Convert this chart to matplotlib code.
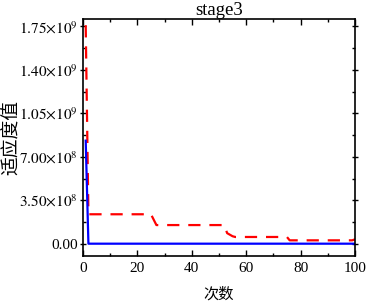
import matplotlib.pyplot as plt
from matplotlib.ticker import MultipleLocator, FuncFormatter

plt.rcParams['font.family'] = ['Liberation Serif', 'Noto Sans CJK SC']
plt.rcParams['mathtext.fontset'] = 'stix'

# 数据（从图中读取的折点）
red_x = [1, 2, 25, 27, 52, 53, 55, 56, 75, 76, 99, 100]
red_y = [1.76e9, 2.37e8, 2.37e8, 1.5e8, 1.5e8, 8.5e7, 6.0e7, 5.4e7, 5.4e7, 2.7e7, 2.7e7, 3.5e7]
blue_x = [1, 2, 100]
blue_y = [8.3e8, 0.0, 0.0]

yticks = [0, 3.5e8, 7.0e8, 1.05e9, 1.40e9, 1.75e9]


def fmt(v, pos):
    if v == 0:
        return '0.00'
    exp = 0
    m = v
    while abs(m) >= 10:
        m /= 10
        exp += 1
    return r'$\mathrm{%.2f{\times}10^{%d}}$' % (m, exp)


fig = plt.figure(figsize=(3.68, 3.02), dpi=100)
ax = fig.add_axes([0.2255, 0.152, 0.739, 0.785])

ax.plot(red_x, red_y, color='#ff0000', linewidth=1.6, linestyle=(0, (5.5, 4)))
ax.plot(blue_x, blue_y, color='#0000ff', linewidth=1.6)

ax.set_xlim(0, 100)
ax.set_ylim(-1.0e8, 1.81e9)
ax.set_xticks([0, 20, 40, 60, 80, 100])
ax.xaxis.set_minor_locator(MultipleLocator(10))
ax.set_yticks(yticks)
ax.yaxis.set_minor_locator(MultipleLocator(1.75e8))
ax.yaxis.set_major_formatter(FuncFormatter(fmt))

ax.tick_params(which='both', direction='in', top=True, right=True, labelsize=11)
ax.tick_params(which='major', length=4, width=1, pad=2)
ax.tick_params(which='minor', length=2.5, width=1)
ax.tick_params(axis='y', which='major', direction='inout', length=5, pad=1)
ax.tick_params(axis='x', which='major', pad=4)
for s in ax.spines.values():
    s.set_linewidth(1.2)

ax.set_title('stage3', fontsize=13.5, pad=1)
ax.set_xlabel('次数', family=['Noto Sans CJK SC'], fontsize=11, labelpad=8)
ax.set_ylabel('适应度值', family=['Noto Sans CJK SC'], fontsize=13.5)
ax.yaxis.set_label_coords(-0.225, 0.5)

fig.savefig('out.png', dpi=100)
